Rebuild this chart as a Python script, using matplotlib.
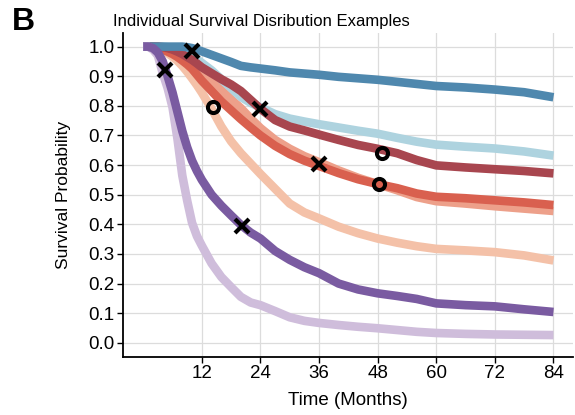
import matplotlib
matplotlib.use("Agg")
import matplotlib.pyplot as plt

plt.rcParams['font.family'] = ['Liberation Sans', 'DejaVu Sans']

# Time grid (months) shared by all survival curves
months = [0, 1, 2, 3, 4, 5, 6, 7, 8, 9, 10, 11, 12, 14, 16, 18, 20, 22, 24,
          27, 30, 33, 36, 40, 44, 48, 52, 56, 60, 66, 72, 78, 84]

surv_blue = [1.0, 1.0, 1.0, 1.0, 1.0, 1.0, 1.0, 1.0, 1.0, .998, .995, .99, .984,
             .972, .96, .948, .935, .93, .926, .92, .913, .909, .905, .898, .893,
             .888, .881, .874, .867, .862, .855, .846, .829]
surv_lightblue = [1.0, 1.0, 1.0, 1.0, 1.0, .998, .995, .99, .985, .977, .968, .957,
                  .945, .92, .89, .86, .83, .81, .795, .772, .757, .747, .738, .727,
                  .716, .706, .692, .679, .669, .662, .656, .646, .632]
surv_darkred = [1.0, 1.0, 1.0, 1.0, .998, .995, .99, .983, .975, .965, .955, .943,
                .93, .91, .89, .872, .85, .82, .79, .752, .73, .717, .703, .685,
                .668, .655, .64, .617, .599, .592, .586, .58, .572]
surv_red = [1.0, 1.0, .998, .995, .99, .983, .975, .965, .953, .94, .925, .905,
            .885, .85, .815, .785, .755, .727, .70, .665, .637, .615, .597, .573,
            .552, .536, .522, .504, .493, .488, .481, .474, .465]
surv_salmon = [1.0, 1.0, .999, .997, .993, .988, .982, .975, .966, .955, .943, .93,
               .915, .885, .853, .822, .792, .757, .725, .685, .655, .63, .61, .582,
               .557, .536, .515, .492, .478, .47, .461, .453, .445]
surv_peach = [1.0, 1.0, .998, .994, .988, .978, .966, .952, .935, .915, .893, .87,
              .845, .79, .73, .68, .64, .605, .57, .52, .47, .44, .42, .392, .37,
              .352, .338, .326, .317, .312, .306, .295, .278]
surv_purple = [1.0, 1.0, .995, .98, .95, .90, .845, .78, .715, .66, .615, .58, .55,
               .5, .463, .43, .398, .372, .352, .31, .28, .255, .235, .2, .18,
               .167, .158, .148, .133, .127, .123, .113, .104]
surv_lightpurple = [1.0, 1.0, .99, .97, .91, .86, .795, .69, .565, .48, .405, .36,
                    .328, .268, .222, .188, .155, .136, .127, .107, .086, .074, .067,
                    .06, .054, .049, .043, .037, .033, .03, .028, .027, .026]

# Event markers
cross_months = [4.4, 10, 24, 20.2, 36]
cross_surv = [0.92, 0.986, 0.79, 0.395, 0.603]
circle_months = [14.25, 48.9, 48.3]
circle_surv = [0.795, 0.642, 0.535]

x_ticks = [12, 24, 36, 48, 60, 72, 84]
y_ticks = [0.0, 0.1, 0.2, 0.3, 0.4, 0.5, 0.6, 0.7, 0.8, 0.9, 1.0]

curves = [
    (surv_peach, '#f4c1a8'),
    (surv_salmon, '#eda08a'),
    (surv_red, '#d9604f'),
    (surv_lightblue, '#aed3df'),
    (surv_darkred, '#a8464f'),
    (surv_blue, '#4f88ae'),
    (surv_lightpurple, '#cfbddb'),
    (surv_purple, '#7a5ba1'),
]

fig = plt.figure(figsize=(5.75, 4.15), dpi=100)
ax = fig.add_axes([0.2134, 0.1405, 0.7831, 0.78])

for vals, color in curves:
    ax.plot(months, vals, color=color, lw=6.2, solid_capstyle='butt',
            solid_joinstyle='round', zorder=3)

ax.plot(cross_months, cross_surv, linestyle='none', marker='x', color='black',
        markersize=10, markeredgewidth=3, zorder=5)
ax.plot(circle_months, circle_surv, linestyle='none', marker='o',
        markerfacecolor='none', markeredgecolor='black', markersize=8,
        markeredgewidth=2.9, zorder=5)

ax.set_xlim(-4.2, 88)
ax.set_ylim(-0.047, 1.046)
ax.set_xticks(x_ticks)
ax.set_xticklabels([str(t) for t in x_ticks])
ax.set_yticks(y_ticks)
ax.set_yticklabels([f"{v:.1f}" for v in y_ticks])
ax.grid(True, color='#dcdcdc', lw=0.9, zorder=0)
ax.set_axisbelow(True)

for side in ('top', 'right'):
    ax.spines[side].set_visible(False)
for side in ('left', 'bottom'):
    ax.spines[side].set_linewidth(1.3)
ax.tick_params(axis='both', labelsize=13.5, length=4, width=1, pad=2)

ax.set_xlabel('Time (Months)', fontsize=13.5)
ax.set_ylabel('Survival Probability', fontsize=12.5)
ax.xaxis.set_label_coords(0.5, -0.11)
ax.yaxis.set_label_coords(-0.115, 0.5)

fig.text(113 / 575, 1 - 26 / 415, 'Individual Survival Disribution Examples',
         fontsize=12, ha='left', va='baseline')
fig.text(12 / 575, 1 - 30 / 415, 'B', fontsize=23, fontweight='bold',
         ha='left', va='baseline')

fig.savefig('out.png', dpi=100)
